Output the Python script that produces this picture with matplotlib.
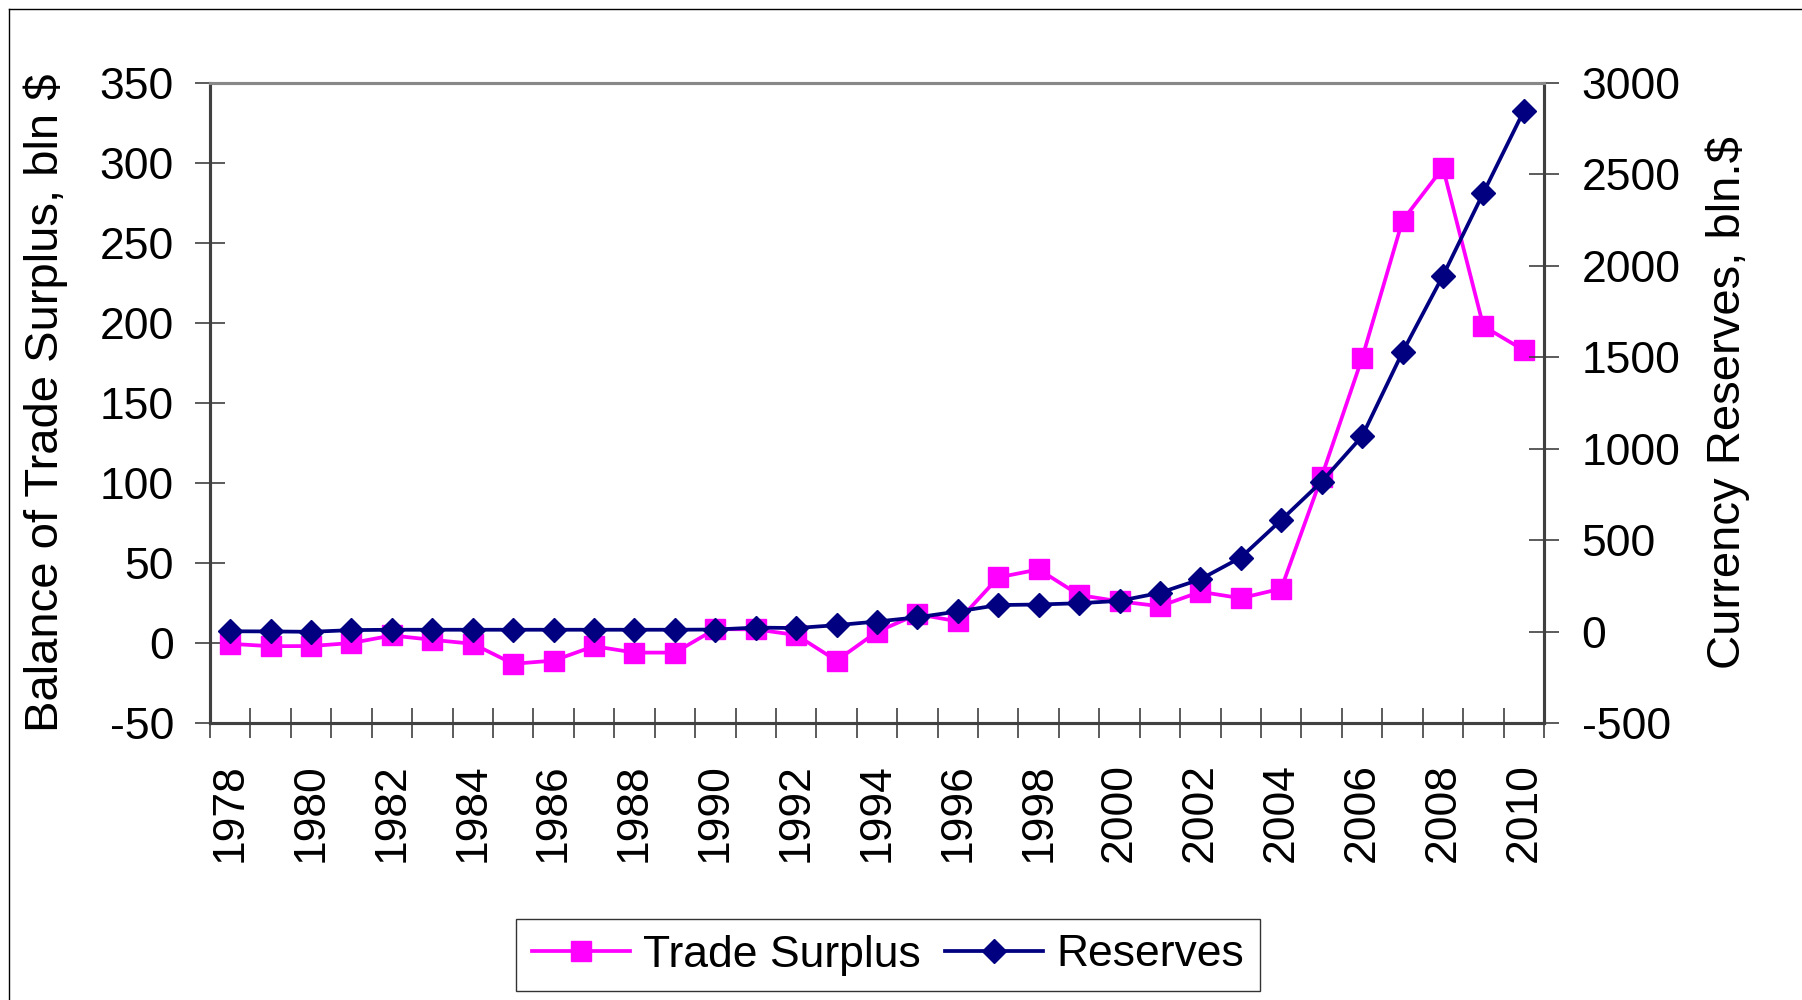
import matplotlib
matplotlib.use("Agg")
import matplotlib.pyplot as plt
from matplotlib.lines import Line2D
import numpy as np

plt.rcParams['font.family'] = ['Liberation Sans', 'DejaVu Sans']

years = list(range(1978, 2011))
trade_surplus = [-0.5, -2.0, -1.9, 0.0, 4.7, 2.0, -0.5, -13.0, -11.0, -2.0, -6.0, -6.0,
                 8.7, 8.5, 5.0, -11.0, 7.0, 18.0, 13.5, 41.0, 46.0, 30.0, 26.0, 23.0,
                 32.0, 28.0, 34.0, 104.0, 178.0, 264.0, 297.0, 198.0, 183.0]
reserves = [1.6, 0.8, -1.3, 8.0, 10.0, 10.0, 10.0, 10.0, 10.0, 10.0, 10.0, 10.0,
            11.1, 21.7, 19.4, 35.0, 55.0, 78.0, 110.0, 145.0, 148.0, 155.0, 168.0, 212.0,
            286.0, 405.0, 610.0, 820.0, 1068.0, 1528.0, 1946.0, 2399.0, 2847.0]
left_ticks = list(range(-50, 351, 50))
right_ticks = list(range(-500, 3001, 500))
year_labels = [str(y) for y in years[::2]]

PINK = '#FF00FF'
NAVY = '#000080'
AXC = '#404040'

fig = plt.figure(figsize=(18.02, 10.0), dpi=100)
ax = fig.add_axes([210/1802, 1-723/1000, 1334/1802, 640/1000])
ax2 = ax.twinx()

x = np.arange(len(years))
ax.plot(x, trade_surplus, color=PINK, lw=2.7, marker='s', ms=14, mfc=PINK, mec=PINK,
        mew=1, label='Trade Surplus', clip_on=False)
ax2.plot(x, reserves, color=NAVY, lw=2.7, marker='D', ms=12, mfc=NAVY, mec=NAVY,
         mew=1, label='Reserves', clip_on=False)

ax.set_xlim(-0.5, len(years) - 0.5)
ax.set_ylim(-50, 350)
ax2.set_ylim(-500, 3000)
ax.set_yticks(left_ticks)
ax.set_yticklabels([str(v) for v in left_ticks])
ax2.set_yticks(right_ticks)
ax2.set_yticklabels([str(v) for v in right_ticks])

ax.set_xticks(x[::2])
ax.set_xticklabels(year_labels, rotation=90)
ax.set_xticks(np.arange(-0.5, len(years) + 0.5, 1.0), minor=True)
ax.tick_params(axis='x', which='major', length=0, pad=29, labelsize=32)
ax.tick_params(axis='x', which='minor', length=22, width=1.2, direction='inout', color=AXC)
ax.tick_params(axis='y', which='major', length=22, width=1.2, direction='inout', color=AXC,
               pad=15, labelsize=32)
ax2.tick_params(axis='y', which='major', length=22, width=1.2, direction='inout', color=AXC,
                pad=16, labelsize=32)
ax2.tick_params(axis='x', which='both', length=0)

for a in (ax, ax2):
    for side in ('left', 'right', 'bottom'):
        a.spines[side].set_color(AXC)
        a.spines[side].set_linewidth(2.2)
    a.spines['top'].set_color('#888888')
    a.spines['top'].set_linewidth(2.2)

fig.text(46/1802, 1-403/1000, 'Balance of Trade Surplus, bln $', rotation=90,
         ha='center', va='center', fontsize=34)
fig.text(1728/1802, 1-403/1000, 'Currency Reserves, bln.$', rotation=90,
         ha='center', va='center', fontsize=34)

h1, l1 = ax.get_legend_handles_labels()
h2, l2 = ax2.get_legend_handles_labels()
leg = fig.legend(h1 + h2, l1 + l2, loc='center', bbox_to_anchor=(888/1802, 1-955/1000),
                 bbox_transform=fig.transFigure, ncol=2, fontsize=32, frameon=True,
                 fancybox=False, edgecolor='black', handlelength=2.2, handletextpad=0.3,
                 columnspacing=0.55, borderpad=0.35, numpoints=1)
leg.get_frame().set_linewidth(1.0)

fig.add_artist(Line2D([9/1802, 1.0], [1-9/1000, 1-9/1000], transform=fig.transFigure,
                      color='black', lw=1))
fig.add_artist(Line2D([9/1802, 9/1802], [0.0, 1-9/1000], transform=fig.transFigure,
                      color='black', lw=1))

fig.savefig('out.png', dpi=100)
